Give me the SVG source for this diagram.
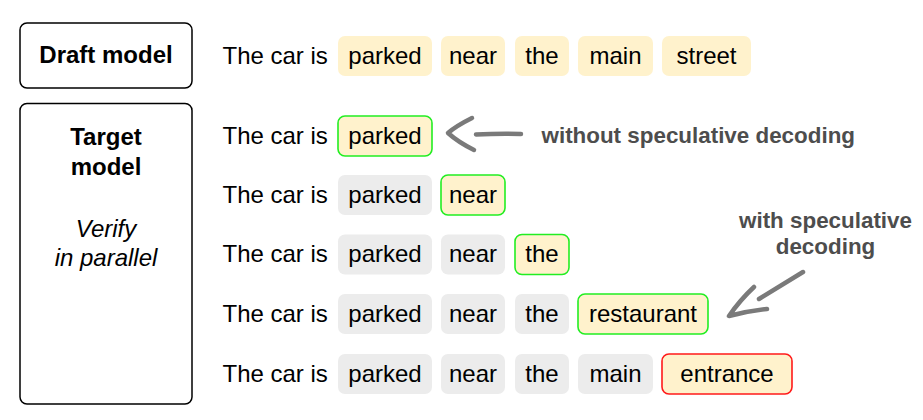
<svg xmlns="http://www.w3.org/2000/svg" width="923" height="420" viewBox="0 0 923 420">
<style>
text{font-family:"Liberation Sans",Arial,sans-serif;font-size:24px;fill:#000}
.b{font-weight:bold}
.i{font-style:italic}
.m{text-anchor:middle}
.note{font-weight:bold;font-size:22.4px;fill:#4d4d4d}
.model{fill:#fff;stroke:#000;stroke-width:1.5}
.tk{stroke-width:1.6}
.y{fill:#fff2cc}
.g{fill:#ececec}
.ok{stroke:#22ee22}
.bad{stroke:#ff1a1a}
.arrow{fill:none;stroke:#7a7a7a;stroke-width:4.5;stroke-linecap:round;stroke-linejoin:round}
</style>
<rect width="923" height="420" fill="#fff"/>
<g id="draft-model">
<rect class="model" x="20" y="23" width="172" height="65" rx="7"/>
<text class="b m" x="106" y="63">Draft model</text>
</g>
<g id="target-model">
<rect class="model" x="20" y="103.5" width="172" height="300.5" rx="7"/>
<text class="b m" x="106" y="145">Target</text>
<text class="b m" x="106" y="175">model</text>
<text class="i m" x="106" y="237">Verify</text>
<text class="i m" x="106" y="266">in parallel</text>
</g>
<g id="row-draft">
<text x="222.5" y="63.5">The car is</text>
<rect class="y" x="338" y="36" width="94" height="40" rx="7"/><text class="m" x="385" y="63.5">parked</text>
<rect class="y" x="441" y="36" width="64" height="40" rx="7"/><text class="m" x="473" y="63.5">near</text>
<rect class="y" x="515" y="36" width="54" height="40" rx="7"/><text class="m" x="542" y="63.5">the</text>
<rect class="y" x="578" y="36" width="75" height="40" rx="7"/><text class="m" x="615.5" y="63.5">main</text>
<rect class="y" x="662" y="36" width="89" height="40" rx="7"/><text class="m" x="706.5" y="63.5">street</text>
</g>
<g id="row-1">
<text x="222.5" y="143.5">The car is</text>
<rect class="y tk ok" x="338" y="116" width="94" height="40" rx="7"/><text class="m" x="385" y="143.5">parked</text>
</g>
<g id="row-2">
<text x="222.5" y="202.5">The car is</text>
<rect class="g" x="338" y="175" width="94" height="40" rx="7"/><text class="m" x="385" y="202.5">parked</text>
<rect class="y tk ok" x="441" y="175" width="64" height="40" rx="7"/><text class="m" x="473" y="202.5">near</text>
</g>
<g id="row-3">
<text x="222.5" y="262">The car is</text>
<rect class="g" x="338" y="234.5" width="94" height="40" rx="7"/><text class="m" x="385" y="262">parked</text>
<rect class="g" x="441" y="234.5" width="64" height="40" rx="7"/><text class="m" x="473" y="262">near</text>
<rect class="y tk ok" x="515" y="234.5" width="54" height="40" rx="7"/><text class="m" x="542" y="262">the</text>
</g>
<g id="row-4">
<text x="222.5" y="321.5">The car is</text>
<rect class="g" x="338" y="294" width="94" height="40" rx="7"/><text class="m" x="385" y="321.5">parked</text>
<rect class="g" x="441" y="294" width="64" height="40" rx="7"/><text class="m" x="473" y="321.5">near</text>
<rect class="g" x="515" y="294" width="54" height="40" rx="7"/><text class="m" x="542" y="321.5">the</text>
<rect class="y tk ok" x="578" y="294" width="130" height="40" rx="7"/><text class="m" x="643" y="321.5">restaurant</text>
</g>
<g id="row-5">
<text x="222.5" y="381.5">The car is</text>
<rect class="g" x="338" y="354" width="94" height="40" rx="7"/><text class="m" x="385" y="381.5">parked</text>
<rect class="g" x="441" y="354" width="64" height="40" rx="7"/><text class="m" x="473" y="381.5">near</text>
<rect class="g" x="515" y="354" width="54" height="40" rx="7"/><text class="m" x="542" y="381.5">the</text>
<rect class="g" x="578" y="354" width="75" height="40" rx="7"/><text class="m" x="615.5" y="381.5">main</text>
<rect class="y tk bad" x="662" y="354" width="130" height="40" rx="7"/><text class="m" x="727" y="381.5">entrance</text>
</g>
<g id="connectors">
<path class="arrow" d="M472 118 Q456 126 448 133 Q458 142 474 150"/>
<path class="arrow" d="M476 134.5 Q498 133.5 521 134"/>
<path class="arrow" d="M803 272 Q780 286 759 299"/>
<path class="arrow" d="M754 287 Q740 300 729 316 Q748 311 767 309"/>
</g>
<g id="labels">
<text class="note" x="541.5" y="143">without speculative decoding</text>
<text class="note m" x="825.5" y="228">with speculative</text>
<text class="note m" x="825.5" y="254">decoding</text>
</g>
</svg>
